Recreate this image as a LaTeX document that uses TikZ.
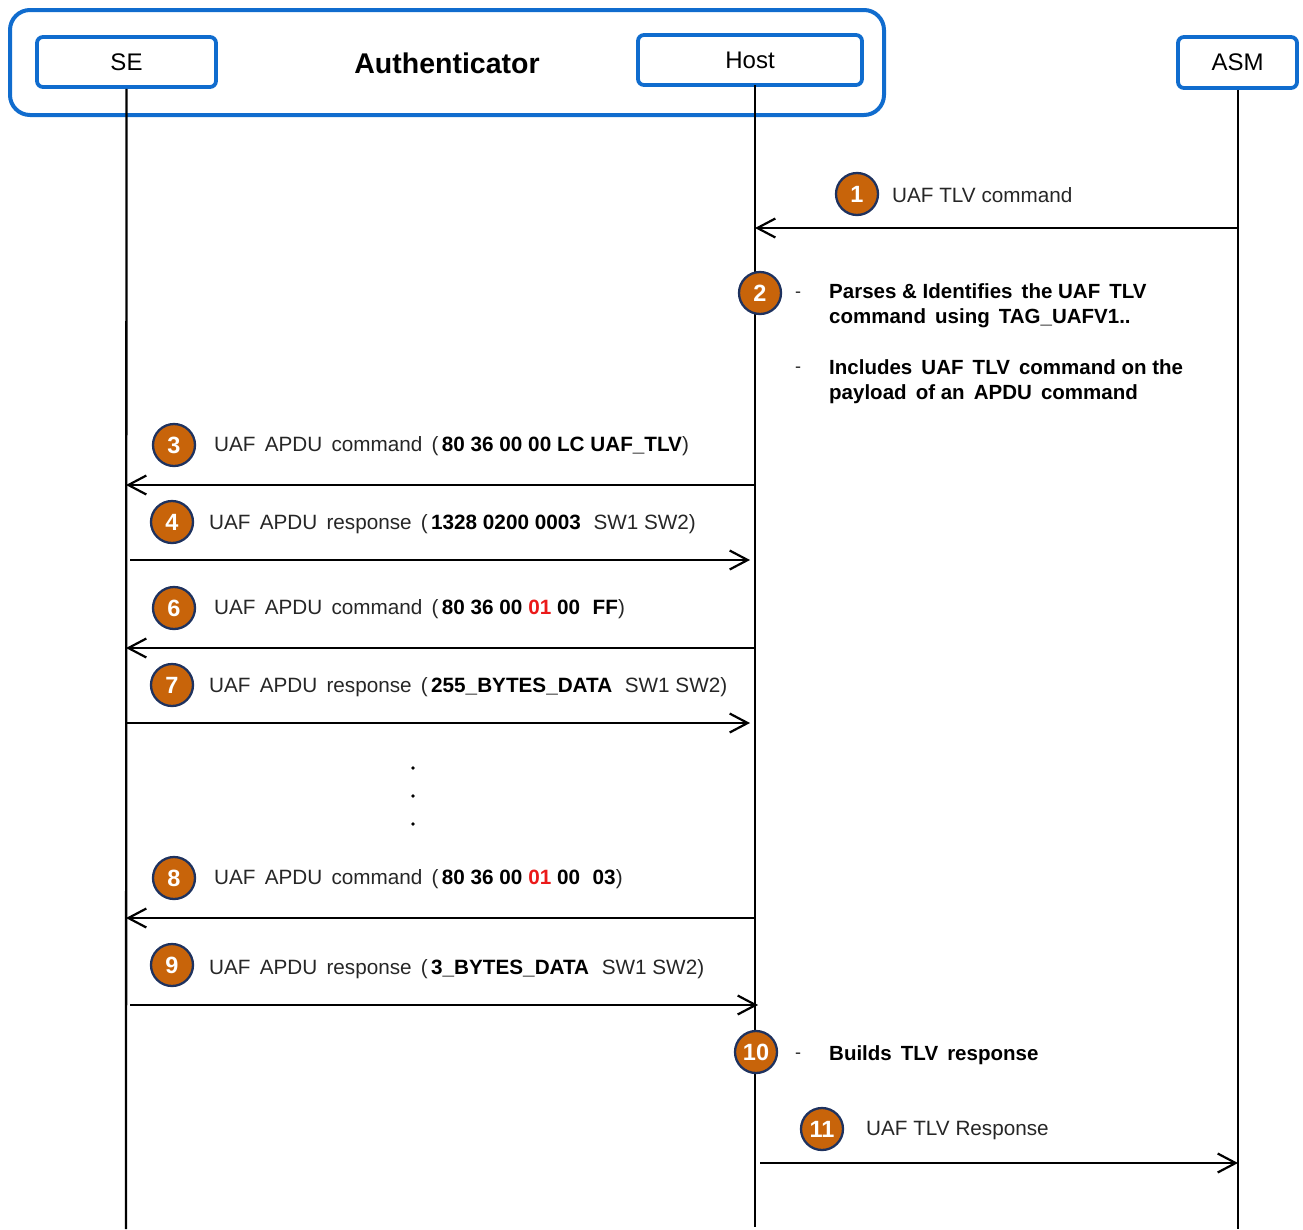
\documentclass[tikz,border=0pt]{standalone}
\usepackage{fontspec}
\setmainfont{Liberation Sans}
\usetikzlibrary{arrows.meta}
\definecolor{boxblue}{RGB}{16,108,206}
\definecolor{stepor}{RGB}{200,100,10}
\definecolor{stepedge}{RGB}{30,50,95}
\definecolor{txtgray}{RGB}{38,38,38}
\definecolor{hexred}{RGB}{235,25,25}
\newcommand{\hb}[1]{\textbf{\textcolor{black}{#1}}}
\newcommand{\hr}[1]{\textbf{\textcolor{hexred}{#1}}}
\begin{document}
\begin{tikzpicture}[x=1pt,y=-1pt,
  actor/.style={draw=boxblue,line width=3.8pt,rounded corners=6pt,inner sep=0pt,
    font=\fontsize{24}{26}\selectfont,text=black},
  frame/.style={draw=boxblue,line width=4pt,rounded corners=20pt,inner sep=0pt},
  life/.style={line width=2.3pt,black},
  arr/.style={line width=2.3pt,black,-{Straight Barb[length=18pt,width=19pt,line width=2.2pt]}},
  stepnum/.style={circle,fill=stepor,draw=stepedge,line width=2.3pt,minimum size=42pt,inner sep=0pt,
    text=white,font=\bfseries\fontsize{23.5}{24}\selectfont},
  msg/.style={anchor=west,inner sep=0pt,yshift=-1.5pt,text=txtgray,font=\fontsize{20.7}{24}\selectfont},
  note/.style={anchor=west,inner sep=0pt,text=black,align=left,font=\bfseries\fontsize{20.5}{25}\selectfont},
  dashmark/.style={anchor=center,inner sep=0pt,text=txtgray,font=\fontsize{18}{20}\selectfont},
  dotmark/.style={circle,fill=black,inner sep=0pt,minimum size=3.8pt}
]
\useasboundingbox (0,0) rectangle (1303,1229);

% frame and actors
\node[frame,minimum width=874pt,minimum height=105pt] (auth) at (447,62.5) {};
\node[inner sep=0pt,font=\bfseries\fontsize{28.5}{30}\selectfont] (authlabel) at (447,63) {Authenticator};
\node[actor,minimum width=179pt,minimum height=50pt] (se) at (126.5,62) {SE};
\node[actor,minimum width=224pt,minimum height=50pt] (host) at (750,60) {Host};
\node[actor,minimum width=119pt,minimum height=51pt] (asm) at (1237.5,62.5) {ASM};

% lifeline ends
\coordinate (seend) at (126,1229);
\coordinate (hosttop) at (755,85);
\coordinate (hostend) at (755,1227);
\coordinate (asmend) at (1238,1229);
\draw[life] (se.south) -- (seend);
\draw[life] (hosttop) -- (hostend);
\draw[life] (asm.south -| asmend) -- (asmend);

% message points
\coordinate (asm1) at (1238,228);  \coordinate (host1) at (755,228);
\coordinate (host3) at (755,485);  \coordinate (se3) at (126,485);
\coordinate (se4) at (130,560);    \coordinate (host4) at (750,560);
\coordinate (host6) at (755,648);  \coordinate (se6) at (126,648);
\coordinate (se7) at (126,723);    \coordinate (host7) at (750,723);
\coordinate (host8) at (755,918);  \coordinate (se8) at (126,918);
\coordinate (se9) at (130,1005);   \coordinate (host9) at (758,1005);
\coordinate (host11) at (760,1163); \coordinate (asm11) at (1238,1163);

\draw[arr] (asm1) -- (host1);
\draw[arr] (host3) -- (se3);
\draw[arr] (se4) -- (host4);
\draw[arr] (host6) -- (se6);
\draw[arr] (se7) -- (host7);
\draw[arr] (host8) -- (se8);
\draw[arr] (se9) -- (host9);
\draw[arr] (host11) -- (asm11);

% step 1
\node[stepnum] (s1) at (857,194) {1};
\node[msg] (m1) at (892,194) {UAF TLV command};
% step 2
\node[stepnum] (s2) at (760,293) {2};
\node[dashmark] (d2a) at (798,295) {-};
\node[note] (n2a) at (829,305.5) {Parses \& Identifies\, the UAF\, TLV\\command\, using\, TAG\_UAFV1..};
\node[dashmark] (d2b) at (798,370) {-};
\node[note] (n2b) at (829,381.5) {Includes\, UAF\, TLV\, command on the\\payload\, of an\, APDU\, command};
% step 3
\node[stepnum] (s3) at (174,445) {3};
\node[msg] (m3) at (214,445) {UAF\, APDU\, command\, (\,\hb{80 36 00 00 LC UAF\_TLV})};
% step 4
\node[stepnum] (s4) at (172,522) {4};
\node[msg] (m4) at (209,523) {UAF\, APDU\, response\, (\,\hb{1328 0200 0003}\,\, SW1 SW2)};
% step 6
\node[stepnum] (s6) at (174,608) {6};
\node[msg] (m6) at (214,608) {UAF\, APDU\, command\, (\,\hb{80 36 00} \hr{01} \hb{00\,\, FF})};
% step 7
\node[stepnum] (s7) at (172,685) {7};
\node[msg] (m7) at (209,686) {UAF\, APDU\, response\, (\,\hb{255\_BYTES\_DATA}\,\, SW1 SW2)};
% dots
\node[dotmark] (dot1) at (413,768) {};
\node[dotmark] (dot2) at (413,796) {};
\node[dotmark] (dot3) at (413,824) {};
% step 8
\node[stepnum] (s8) at (174,878) {8};
\node[msg] (m8) at (214,878) {UAF\, APDU\, command\, (\,\hb{80 36 00} \hr{01} \hb{00\,\, 03})};
% step 9
\node[stepnum] (s9) at (172,965) {9};
\node[msg] (m9) at (209,968) {UAF\, APDU\, response\, (\,\hb{3\_BYTES\_DATA}\,\, SW1 SW2)};
% step 10
\node[stepnum] (s10) at (756,1052) {10};
\node[dashmark] (d10) at (798,1056) {-};
\node[note] (n10) at (829,1055) {Builds\, TLV\, response};
% step 11
\node[stepnum] (s11) at (822,1129) {11};
\node[msg] (m11) at (866,1129) {UAF TLV Response};
\end{tikzpicture}
\end{document}
